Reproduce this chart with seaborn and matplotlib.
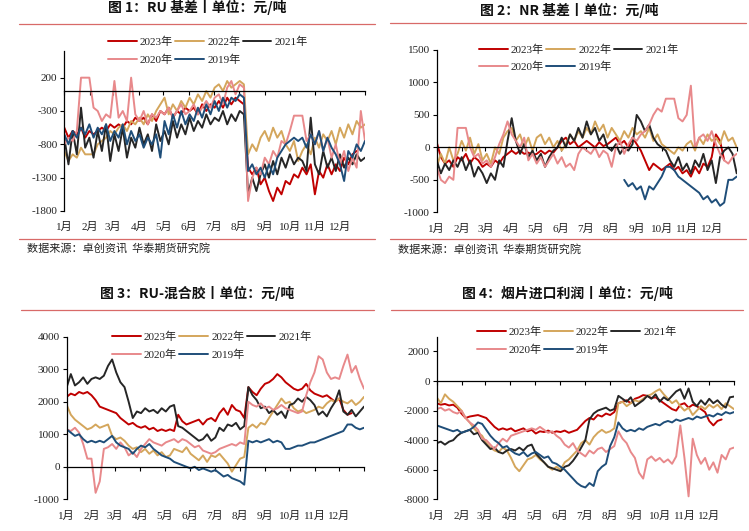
import pandas as pd
import matplotlib
matplotlib.use('Agg')
import matplotlib.pyplot as plt
import matplotlib.dates as mdates
from matplotlib.ticker import FuncFormatter
from matplotlib.lines import Line2D
import seaborn as sns

YEARS = ['2023年', '2022年', '2021年', '2020年', '2019年']
COLORS = ['#C00000', '#D4A65C', '#262626', '#E8898B', '#1F4E79']

TITLES = ['图 1：RU 基差丨单位：元/吨', '图 2：NR 基差丨单位：元/吨',
          '图 3：RU-混合胶丨单位：元/吨', '图 4：烟片进口利润丨单位：元/吨']
SOURCE = '数据来源：卓创资讯  华泰期货研究院'

# ---------------- Panel 1: RU basis ----------------
p1_2023 = [-550,-700,-600,-650,-550,-700,-600,-650,-600,-550,
           -600,-500,-550,-500,-550,-450,-500,-400,-450,-400,
           -500,-350,-450,-300,-350,-250,-400,-300,-350,-250,
           -300,-250,-350,-200,-300,-200,-250,-150,-250,-100,
           -200,-100,-150,-200,-1150,-1250,-1150,-1400,-1300,-1500,
           -1650,-1450,-1550,-1350,-1400,-1250,-1300,-1150,-1250,-1100,
           -1550,-1200,-1300,-1100,-1250,-1100,-1200,-1000,-1100,-950,
           -900]
p1_2022 = [-900,-1050,-950,-1000,-850,-950,-950,-950,-800,-750,
           -700,-600,-650,-550,-500,-600,-450,-500,-400,-500,
           -350,-450,-300,-200,-100,-350,-200,-300,-150,-250,
           -100,-200,-50,-150,0,-100,50,100,0,150,
           50,100,150,100,-950,-800,-900,-700,-600,-750,
           -550,-700,-600,-800,-900,-750,-1050,-900,-800,-950,
           -700,-850,-650,-750,-600,-800,-550,-700,-500,-650,
           -450,-550,-500]
p1_2021 = [-700,-1100,-600,-950,-250,-850,-700,-1000,-600,-900,
           -500,-1050,-650,-900,-550,-1000,-700,-850,-550,-800,
           -650,-900,-500,-750,-600,-800,-450,-700,-500,-650,
           -400,-600,-450,-550,-350,-500,-400,-450,-300,-500,
           -350,-450,-300,-350,-1550,-1300,-1500,-1250,-1100,-1300,
           -1050,-1250,-1000,-1150,-950,-1100,-1000,-1050,-1200,-400,
           -1100,-1250,-900,-1150,-1000,-1200,-950,-1150,-1000,-1100,
           -950,-1050,-1000]
p1_2020 = [-800,-700,-750,-600,200,200,200,-250,-300,-450,
           -350,-400,150,-400,-300,-450,200,-350,-450,-300,
           -500,-350,-400,-300,-350,-250,-400,-300,-200,-350,
           -300,-200,-350,-250,-150,-250,-100,-50,-200,50,
           150,-50,100,50,-1650,-1300,-1150,-1250,-1000,-1100,
           -900,-1000,-750,-800,-600,-370,-370,-370,-750,-650,
           -800,-600,-900,-700,-1000,-800,-1100,-900,-1200,-1000,
           -1150,-300,-750]
p1_2019 = [-650,-800,-600,-700,-550,-650,-500,-700,-550,-650,
           -500,-750,-600,-700,-500,-800,-600,-750,-650,-850,
           -700,-800,-650,-1000,-450,-650,-350,-550,-300,-500,
           -350,-450,-250,-400,-200,-350,-150,-300,-100,-250,
           -100,-150,-50,-100,-1200,-1100,-1250,-1150,-1300,-1100,
           -1250,-1000,-900,-800,-750,-700,-750,-700,-850,-650,
           -800,-600,-900,-700,-850,-950,-1100,-1350,-900,-1000,
           -800,-900,-750]

# ---------------- Panel 2: NR basis ----------------
p2_2023 = [80,-150,-250,-200,-300,-150,-200,-100,-250,-150,
           -200,-300,-250,-300,-200,-250,-150,-100,-50,-100,
           -50,-100,-80,-120,-100,-50,-100,-50,-80,0,
           100,150,50,100,0,50,100,50,0,80,
           20,50,100,150,50,100,0,150,50,-50,
           -200,-350,-250,-300,-350,-300,-250,-350,-300,-400,
           -350,-450,-300,-400,-250,-300,-150,200,100,-200]
p2_2022 = [-300,-100,-250,0,-200,-100,100,-50,150,-100,
           50,-200,-100,-250,0,-100,150,250,300,100,
           200,0,150,-50,150,200,50,150,0,100,
           -50,50,200,100,250,150,300,200,400,250,
           350,150,300,200,100,250,150,300,200,250,
           150,300,100,200,50,0,-50,-100,0,-50,
           50,100,-50,150,50,200,100,150,50,250,
           100,150,0]
p2_2021 = [-200,-400,-250,-350,-200,-300,-150,-350,-200,-450,
           -300,-400,-550,-400,-500,-200,-300,100,450,100,
           -100,50,-150,-50,-200,-100,-300,-150,-50,0,
           150,0,200,100,300,150,400,200,300,100,
           200,0,-50,50,-100,0,-50,50,500,400,
           250,350,150,50,0,-50,-200,-300,-150,-350,
           -250,-400,-200,-300,-100,-350,-200,-550,-150,-50,
           0,-100,-400]
p2_2020 = [-300,-500,-550,-450,-500,300,300,300,0,-150,
           -100,-250,-200,-300,-150,50,200,400,200,100,
           0,150,-200,-100,-250,-150,-300,-200,-100,-250,
           -150,-300,-250,-350,-100,0,-50,-100,0,-150,
           -50,-100,-300,0,100,-100,50,150,100,200,
           250,350,500,600,550,750,750,750,450,400,
           500,950,0,150,200,100,250,50,-100,-200,
           -250,-150,-100]
p2_2019 = [-500,-600,-550,-650,-600,-800,-600,-650,-550,-450,
           -300,-300,-350,-450,-500,-550,-600,-650,-700,-800,
           -750,-850,-800,-900,-850,-500,-500,-450]

# ---------------- Panel 3: RU - mixed rubber ----------------
p3_2023 = [2150,2250,2200,2300,2250,2300,2200,2050,1850,1800,
           1750,1700,1650,1500,1400,1300,1350,1250,1200,1250,
           1150,1200,1100,1150,1100,1150,1100,1600,1400,1300,
           1350,1400,1450,1300,1450,1500,1400,1650,1800,1600,
           1900,1750,1700,1500,2450,2300,2200,2400,2550,2600,
           2700,2850,2750,2600,2500,2400,2350,2400,2550,2350,
           2250,2200,2150,2200,2100,2000,2100,1750,1600,1650]
p3_2022 = [1900,1600,1450,1350,1250,1150,1200,1300,1200,1250,
           1300,950,850,900,800,650,550,600,450,550,
           400,500,350,450,300,350,550,500,450,600,
           400,300,200,350,150,350,300,400,250,100,
           -150,50,250,300,1200,1300,1200,1350,1300,1500,
           1700,1900,2100,1950,2000,1800,1700,1750,1650,1700,
           1750,1850,1800,1950,2050,2000,2100,2000,1950,2050,
           1900,2000,2150]
p3_2021 = [2450,2850,2500,2600,2750,2550,2700,2750,2700,2800,
           3100,3300,2900,2600,2450,2000,1500,1700,1650,1800,
           1700,1750,1650,1800,1700,1850,1900,1250,1200,1100,
           1000,900,800,850,1000,800,900,1200,1100,1300,
           1250,1350,1150,1250,2450,2200,2050,1800,1850,1650,
           1750,1600,1700,1500,1900,1950,2100,2000,2150,2050,
           1900,1600,1700,1550,1800,2000,2350,1700,1600,1750,
           1550,1700,1850]
p3_2020 = [1150,1100,1200,1050,700,250,250,-800,-450,550,
           600,700,550,750,600,350,450,300,550,700,
           850,750,700,650,750,800,850,750,850,800,
           700,600,650,500,450,400,450,550,600,650,
           700,650,750,700,2000,1900,1850,1950,1800,1850,
           1750,1800,1900,1800,1750,1700,1650,1700,2200,2600,
           2900,3400,3300,2900,2700,2750,2700,3100,3450,2900,
           3100,2700,2400]
p3_2019 = [1150,1050,950,1000,850,750,800,750,800,750,
           850,950,750,650,600,550,400,550,650,600,
           700,550,450,350,300,250,150,100,50,0,
           -50,0,-100,-50,-100,-150,-100,-200,-300,-250,
           -350,-400,-450,-550,800,750,800,750,800,850,
           750,800,750,550,550,600,650,650,700,750,
           750,800,850,900,950,1000,1050,1100,1300,1300,
           1200,1150,1200]

# ---------------- Panel 4: smoked sheet import profit ----------------
p4_2023 = [-1500,-1600,-1550,-1650,-1600,-1800,-2200,-2500,-2400,-2350,
           -2300,-2400,-2500,-2800,-3100,-3300,-3200,-3300,-3200,-3400,
           -3300,-3200,-3400,-3300,-3550,-3400,-3450,-3350,-3500,-3400,
           -3450,-3350,-3500,-3400,-3300,-3000,-2700,-2500,-2600,-2300,
           -2400,-2200,-2300,-2100,-1500,-1400,-1300,-1500,-1200,-1100,
           -950,-1000,-1150,-1100,-1300,-1500,-1700,-1900,-2000,-1600,
           -1500,-1800,-1600,-1700,-1900,-2100,-2700,-3000,-2700,-2600]
p4_2022 = [-1100,-1500,-900,-1200,-1400,-1700,-2000,-2500,-2800,-3200,
           -3500,-3700,-4200,-4500,-4700,-4800,-4500,-4700,-5200,-5800,
           -6100,-5700,-5300,-5200,-5000,-5300,-5500,-5800,-6000,-5800,
           -6000,-5500,-5300,-5000,-4700,-4200,-4000,-4300,-3800,-3500,
           -3300,-3500,-3400,-3200,-1500,-1400,-1700,-1500,-1300,-1400,
           -1200,-1000,-900,-700,-550,-900,-1200,-1500,-1300,-1700,
           -2000,-1800,-2300,-2000,-1700,-1900,-1600,-1800,-1600,-1900,
           -1500,-1700,-1900]
p4_2021 = [-4200,-4100,-4300,-4100,-4000,-3700,-3500,-3400,-3300,-3600,
           -3500,-4000,-4300,-4600,-4500,-4800,-4900,-4700,-4600,-4700,
           -4500,-4700,-4400,-4300,-4900,-5200,-5500,-5800,-5900,-6000,
           -6100,-5800,-5700,-5400,-5000,-4500,-4000,-2600,-2200,-2000,
           -1900,-1800,-2000,-1900,-1000,-1200,-1400,-1100,-1700,-1500,
           -1300,-1000,-1200,-900,-1400,-1100,-1300,-1000,-700,-550,
           -1200,-500,-1400,-1700,-1300,-1600,-1200,-1500,-1300,-1600,
           -1800,-1100,-1050]
p4_2020 = [-1900,-1800,-2000,-1900,-2100,-2200,-2000,-2500,-2800,-3000,
           -3300,-3900,-4000,-4300,-4600,-4200,-3900,-4100,-3700,-3600,
           -3500,-3400,-3300,-3200,-3300,-3100,-3300,-3500,-3400,-3700,
           -3900,-4300,-4500,-4200,-4700,-4900,-5100,-4700,-4900,-4600,
           -4500,-4800,-4600,-4400,-3400,-3900,-4200,-4800,-5200,-6200,
           -6600,-5300,-5100,-5400,-5200,-5500,-5300,-5600,-5100,-3000,
           -5200,-7800,-3900,-5000,-5600,-5200,-6000,-5500,-6200,-5000,
           -5300,-4600,-4500]
p4_2019 = [-3000,-3100,-3200,-3300,-3400,-3300,-3500,-3400,-3300,-3100,
           -2800,-2900,-3300,-3700,-4000,-4200,-4500,-4400,-4700,-4900,
           -5000,-4800,-5100,-4900,-4800,-5000,-5200,-5100,-5500,-5600,
           -5800,-6000,-6300,-6600,-6900,-7100,-7200,-6900,-7100,-6100,
           -5800,-5600,-4400,-3800,-2800,-3200,-3400,-3300,-3400,-3200,
           -3300,-3100,-3000,-2900,-3000,-2800,-2700,-2800,-2600,-2700,
           -2600,-2500,-2600,-2400,-2500,-2400,-2300,-2400,-2200,-2300,
           -2100,-2200,-2100]

YTICKS = [list(range(-1800, 201, 500)), list(range(-1000, 1501, 500)),
          list(range(-1000, 4001, 1000)), list(range(-8000, 2001, 2000))]
YLIMS = [(-1800, 600), (-1000, 1500), (-1000, 4000), (-8000, 3000)]

PANELS = [
    [(p1_2023, 'start'), (p1_2022, 'start'), (p1_2021, 'start'), (p1_2020, 'start'), (p1_2019, 'start')],
    [(p2_2023, 'start'), (p2_2022, 'start'), (p2_2021, 'start'), (p2_2020, 'start'), (p2_2019, 'end')],
    [(p3_2023, 'start'), (p3_2022, 'start'), (p3_2021, 'start'), (p3_2020, 'start'), (p3_2019, 'start')],
    [(p4_2023, 'start'), (p4_2022, 'start'), (p4_2021, 'start'), (p4_2020, 'start'), (p4_2019, 'start')],
]

DATES = pd.date_range('2021-01-01', '2021-12-31', periods=73)
X0, X1 = pd.Timestamp('2021-01-01'), pd.Timestamp('2021-12-31')
TICK_DATES = list(pd.date_range('2021-01-01', periods=12, freq='MS')) + [X1]

sns.set_theme(style='white')
plt.rcParams['font.family'] = ['Liberation Serif', 'Noto Sans CJK SC']
plt.rcParams['axes.unicode_minus'] = False

W, H = 749, 531
fig = plt.figure(figsize=(W / 100, H / 100), dpi=100)

# layout in pixels: (left, right, top, bottom)
AX_PX = [(64.3, 365, 51, 211), (436.7, 736.7, 50, 212.3),
         (66.7, 364, 336.7, 499.3), (436.7, 734, 336.7, 499.3)]
TITLE_PX = [(197, 7.5), (569, 10.8), (197.5, 293.3), (567.5, 293.5)]
RULE_TOP_PX = [(19, 375, 23.7), (390, 746, 23.3), (21, 374, 310), (391, 743, 310)]
RULE_SRC_PX = [(19, 375, 239), (390, 746, 239)]
SRC_PX = [(26.7, 248), (398, 249)]
LEG_PX = [(108, 41.7), (479, 49.3), (112, 336.7), (476.7, 331.7)]
RED_RULE = '#D86A68'


def month_fmt(x, pos):
    return f'{mdates.num2date(x).month}月'


for k in range(4):
    l, r, t, b = AX_PX[k]
    ax = fig.add_axes([l / W, 1 - b / H, (r - l) / W, (b - t) / H])
    rows = []
    for (vals, align), yr in zip(PANELS[k], YEARS):
        d = DATES[:len(vals)] if align == 'start' else DATES[-len(vals):]
        rows.append(pd.DataFrame({'date': d, 'value': vals, 'year': yr}))
    df = pd.concat(rows, ignore_index=True)
    sns.lineplot(data=df, x='date', y='value', hue='year', hue_order=YEARS,
                 palette=COLORS, linewidth=1.4, estimator=None, sort=False,
                 ax=ax)
    ax.set_xlim(X0, X1)
    ax.set_ylim(*YLIMS[k])
    ax.set_yticks(YTICKS[k])
    ax.set_xlabel('')
    ax.set_ylabel('')
    ax.set_facecolor('white')
    for s in ['top', 'right']:
        ax.spines[s].set_visible(False)
    ax.spines['left'].set_color('black')
    ax.spines['left'].set_linewidth(0.9)
    ax.spines['bottom'].set_position(('data', 0))
    ax.spines['bottom'].set_color('black')
    ax.spines['bottom'].set_linewidth(0.9)
    ax.set_xticks(TICK_DATES)
    ax.tick_params(axis='x', bottom=True, labelbottom=False, direction='out',
                   length=3, width=0.8, color='black')
    ax.tick_params(axis='y', left=True, direction='out', length=3, width=0.8,
                   color='black', labelsize=8, pad=2, labelcolor='#222222')
    sec = ax.secondary_xaxis(0)
    sec.xaxis.set_major_locator(mdates.MonthLocator())
    sec.xaxis.set_major_formatter(FuncFormatter(month_fmt))
    sec.spines['bottom'].set_visible(False)
    sec.tick_params(axis='x', length=0, pad=8, labelsize=8, labelcolor='#222222')

    handles, labels = ax.get_legend_handles_labels()
    hmap = dict(zip(labels, handles))
    order = ['2023年', '2020年', '2022年', '2019年', '2021年']
    lx, ly = LEG_PX[k]
    ax.legend([hmap[o] for o in order], order, ncol=3, loc='upper left',
              bbox_to_anchor=(lx / W, 1 - (ly - 5.0) / H),
              bbox_transform=fig.transFigure, frameon=False, fontsize=8,
              borderpad=0, borderaxespad=0, handlelength=2.6,
              handletextpad=0.27, columnspacing=0.2, labelspacing=0.65)
    for txt in ax.get_legend().get_texts():
        txt.set_color('#222222')

    tx, ty = TITLE_PX[k]
    fig.text(tx / W, 1 - ty / H, TITLES[k], ha='center', va='center',
             fontsize=10, fontweight='bold', family=['Noto Sans CJK SC'],
             color='#111111')
    x0, x1, yy = RULE_TOP_PX[k]
    fig.add_artist(Line2D([x0 / W, x1 / W], [1 - yy / H, 1 - yy / H],
                          color=RED_RULE, lw=0.9, transform=fig.transFigure))

for k in range(2):
    x0, x1, yy = RULE_SRC_PX[k]
    fig.add_artist(Line2D([x0 / W, x1 / W], [1 - yy / H, 1 - yy / H],
                          color=RED_RULE, lw=0.9, transform=fig.transFigure))
    sx, sy = SRC_PX[k]
    fig.text(sx / W, 1 - sy / H, SOURCE, ha='left', va='center', fontsize=8,
             family=['Noto Sans CJK SC'], color='#222222')

fig.savefig('out.png', dpi=100, facecolor='white')
